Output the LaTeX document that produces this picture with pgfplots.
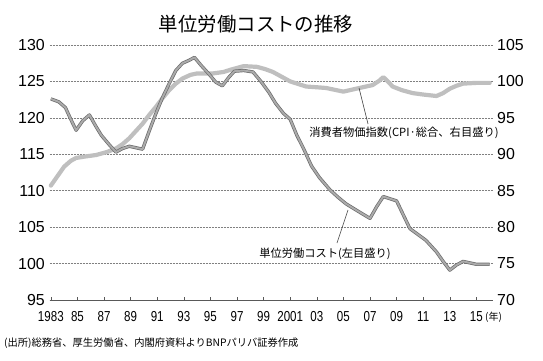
\documentclass[border=0pt]{standalone}
\usepackage{pgfplots}
\pgfplotsset{compat=1.18}
\usepackage{fontspec}
\setmainfont{Liberation Sans}
\newfontfamily\jp{Noto Sans CJK JP}
\newfontfamily\narrow[FakeStretch=0.8]{Liberation Sans}

\pgfplotstableread{
x y
1983.0 122.6
1983.6 122.2
1984.1 121.4
1984.5 119.8
1984.9 118.3
1985.4 119.6
1985.9 120.4
1986.4 118.8
1986.8 117.6
1987.4 116.3
1987.9 115.3
1988.4 115.8
1988.9 116.1
1989.4 115.9
1989.9 115.7
1990.4 118.2
1990.9 120.6
1991.4 122.8
1991.9 124.7
1992.4 126.5
1992.9 127.5
1993.4 127.9
1993.8 128.3
1994.3 127.2
1994.9 126.0
1995.4 124.9
1995.9 124.4
1996.4 125.6
1996.8 126.4
1997.5 126.5
1998.2 126.3
1998.8 125.0
1999.4 123.5
1999.9 122.0
2000.5 120.6
2001.0 119.8
2001.5 117.6
2002.0 115.8
2002.6 113.4
2003.2 111.8
2004.0 110.1
2004.6 109.1
2005.2 108.2
2006.0 107.3
2007.0 106.2
2007.5 107.8
2008.0 109.2
2008.5 108.9
2009.0 108.6
2009.5 106.7
2010.0 104.8
2010.6 104.0
2011.2 103.2
2012.0 101.6
2012.5 100.3
2013.0 99.1
2013.5 99.8
2014.0 100.3
2014.5 100.1
2015.0 99.9
2015.5 99.9
2016.0 99.9
}\ulc

\pgfplotstableread{
x y
1983.0 85.7
1983.5 87.0
1984.0 88.3
1984.5 89.1
1984.9 89.5
1985.6 89.7
1986.4 89.9
1987.2 90.3
1987.9 90.8
1988.4 91.4
1988.9 92.2
1989.4 93.2
1989.9 94.2
1990.4 95.4
1990.9 96.5
1991.4 97.7
1991.9 98.8
1992.4 99.7
1992.9 100.4
1993.5 100.9
1994.0 101.1
1995.2 101.1
1996.0 101.3
1996.5 101.6
1997.5 102.1
1998.5 102.0
1999.1 101.7
1999.7 101.3
2000.4 100.6
2001.0 100.0
2002.2 99.3
2003.0 99.2
2003.7 99.1
2005.0 98.6
2006.2 99.1
2007.2 99.5
2007.7 100.1
2008.0 100.6
2008.4 99.9
2008.7 99.3
2009.4 98.8
2010.2 98.4
2011.0 98.2
2012.0 98.0
2012.5 98.4
2013.0 99.0
2013.5 99.4
2014.0 99.7
2015.0 99.8
2016.0 99.8
}\cpi

\begin{document}
\begin{tikzpicture}[x=1bp,y=1bp]
\useasboundingbox (0,0) rectangle (543,360);
% CPI axis (right), grid and x axis
\begin{axis}[
  at={(49.5bp,60bp)}, anchor=south west, scale only axis,
  width=443.5bp, height=255bp,
  xmin=1982.9, xmax=2016.25, ymin=70, ymax=105,
  axis y line*=right, axis x line*=bottom,
  y axis line style={draw=none},
  x axis line style={draw=black!65, line width=0.6bp, -},
  xtick={1983,1985,...,2015},
  xticklabels={1983,85,87,89,91,93,95,97,99,2001,03,05,07,09,11,13,15},
  xtick align=inside, major tick length=3bp,
  xtick style={draw=black!65, line width=0.5bp},
  ytick={70,75,...,105},
  ytick style={draw=none},
  ymajorgrids,
  grid style={draw=black!50, line width=0.45bp, dash pattern=on 0.6bp off 0.9bp},
  /pgf/number format/assume math mode=true,
  xticklabel style={font=\narrow\fontsize{14.5}{15}\selectfont, anchor=north, inner sep=0pt, yshift=-11.5bp},
  yticklabel style={font=\fontsize{16}{16}\selectfont, anchor=west, inner sep=0pt, xshift=4bp},
  clip=false,
]
\addplot[draw=black!25, line width=4.2bp, line join=round, line cap=round] table[x=x,y=y] {\cpi};
\end{axis}
% ULC axis (left)
\begin{axis}[
  at={(49.5bp,60bp)}, anchor=south west, scale only axis,
  width=443.5bp, height=255bp,
  xmin=1982.9, xmax=2016.25, ymin=95, ymax=130,
  axis y line*=left, axis x line=none,
  y axis line style={draw=none},
  ytick={95,100,...,130},
  ytick style={draw=none},
  /pgf/number format/assume math mode=true,
  yticklabel style={font=\fontsize{16}{16}\selectfont, anchor=east, inner sep=0pt, xshift=-4.5bp},
  clip=false,
]
\addplot[draw=black!58, line width=0.7bp, double=black!33, double distance=1.9bp, line join=round] table[x=x,y=y] {\ulc};
\end{axis}
% leader lines
\draw[black!75, line width=0.6bp] (359,272) -- (368,236);
\draw[black!75, line width=0.6bp] (348,150) -- (337,117);
% texts
\node[font=\jp\fontsize{19.5}{20}\selectfont] at (256,336) {単位労働コストの推移};
\node[font=\jp\fontsize{11.3}{12}\selectfont, inner sep=0pt] at (404,227) {消費者物価指数(CPI·総合、右目盛り)};
\node[font=\jp\fontsize{11.3}{12}\selectfont, inner sep=0pt] at (325,106) {単位労働コスト(左目盛り)};
\node[font=\jp\fontsize{10}{11}\selectfont, anchor=west, inner sep=0pt] at (485,43) {(年)};
\node[font=\jp\fontsize{10.3}{11}\selectfont, anchor=west, inner sep=0pt] at (4,17) {(出所)総務省、厚生労働省、内閣府資料よりBNPパリバ証券作成};
\end{tikzpicture}
\end{document}
